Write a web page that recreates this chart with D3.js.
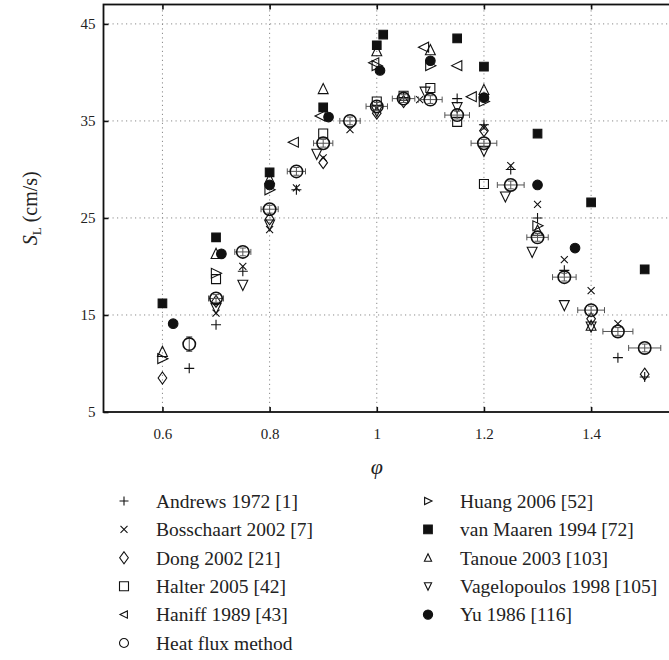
<!DOCTYPE html>
<html>
<head>
<meta charset="utf-8">
<script src="https://cdn.jsdelivr.net/npm/d3@7"></script>
<style>
body { margin: 0; background: #fff; }
</style>
</head>
<body>
<svg id="chart" width="669" height="660"></svg>
<script>
// [phi, S_L] pairs
const andrews = [[0.65, 9.5], [0.7, 14.0], [0.75, 19.5], [0.85, 27.9], [1.0, 36.6], [1.05, 37.4],
    [1.15, 37.3], [1.2, 34.6], [1.25, 30.0], [1.3, 25.0], [1.35, 19.6], [1.45, 10.6], [1.5, 8.6]]
const bosschaart = [[0.7, 15.2], [0.75, 20.0], [0.8, 23.8], [0.85, 28.1], [0.9, 31.2], [0.95, 34.1],
    [1.0, 36.3], [1.08, 37.2], [1.2, 34.3], [1.25, 30.4], [1.3, 26.4], [1.35, 20.7], [1.4, 17.5], [1.45, 14.1]]
const dong = [[0.6, 8.5], [0.7, 16.4], [0.8, 24.9], [0.9, 30.7], [1.0, 35.8], [1.05, 37.0],
    [1.2, 34.0], [1.4, 14.6], [1.5, 8.9]]
const halter = [[0.7, 18.7], [0.9, 33.7], [1.0, 37.0], [1.05, 37.6], [1.1, 38.4], [1.15, 34.9], [1.2, 28.5]]
const haniff = [[0.845, 32.8], [0.895, 35.5], [0.995, 41.0], [1.088, 42.6], [1.15, 40.7], [1.177, 37.5]]
const huang = [[0.6, 10.5], [0.7, 19.3], [0.8, 27.9], [1.0, 40.7], [1.1, 40.7], [1.2, 37.0], [1.3, 24.2]]
const vanMaaren = [[0.6, 16.2], [0.7, 23.0], [0.8, 29.7], [0.9, 36.4], [1.0, 42.8], [1.012, 43.9],
    [1.15, 43.5], [1.2, 40.6], [1.3, 33.7], [1.4, 26.6], [1.5, 19.7]]
const tanoue = [[0.6, 11.2], [0.7, 21.3], [0.8, 29.0], [0.9, 38.3], [1.0, 42.2], [1.1, 42.3],
    [1.2, 38.2], [1.3, 23.7], [1.4, 13.9]]
const vagelopoulos = [[0.7, 15.7], [0.75, 18.1], [0.8, 24.3], [0.888, 31.6], [1.0, 36.0], [1.09, 38.0],
    [1.15, 36.4], [1.2, 31.9], [1.24, 27.2], [1.29, 21.5], [1.35, 16.0], [1.4, 13.8]]
const yu = [[0.62, 14.1], [0.71, 21.3], [0.8, 28.4], [0.91, 35.4], [1.006, 40.2], [1.1, 41.2],
    [1.2, 37.4], [1.3, 28.4], [1.37, 21.9]]

// heat flux method: phi, S_L, phi error, S_L error
const heatFluxPhi = [0.65, 0.7, 0.75, 0.8, 0.85, 0.9, 0.95, 1.0, 1.05, 1.1, 1.15, 1.2, 1.25, 1.3, 1.35, 1.4, 1.45, 1.5]
const heatFluxSL = [12.0, 16.7, 21.5, 25.9, 29.8, 32.7, 35.0, 36.5, 37.3, 37.2, 35.6, 32.7, 28.4, 23.0, 18.9, 15.5, 13.3, 11.6]
const heatFluxPhiErr = [0, 0.014, 0.015, 0.016, 0.017, 0.018, 0.019, 0.02, 0.021, 0.022, 0.023, 0.024, 0.025, 0.02, 0.022, 0.025, 0.028, 0.03]
const heatFluxSLErr = [0.75, 0.4, 0.4, 0.4, 0.4, 0.4, 0.4, 0.4, 0.4, 0.4, 0.4, 0.4, 0.4, 0.4, 0.4, 0.4, 0.4, 0.4]

const xTicks = [0.6, 0.8, 1.0, 1.2, 1.4]
const xTickLabels = ['0.6', '0.8', '1', '1.2', '1.4']
const yTicks = [5, 15, 25, 35, 45]

const leftLegend = ['Andrews 1972 [1]', 'Bosschaart 2002 [7]', 'Dong 2002 [21]', 'Halter 2005 [42]', 'Haniff 1989 [43]', 'Heat flux method']
const rightLegend = ['Huang 2006 [52]', 'van Maaren 1994 [72]', 'Tanoue 2003 [103]', 'Vagelopoulos 1998 [105]', 'Yu 1986 [116]']

const FONT = '"Liberation Serif"'
const svg = d3.select('#chart')
const x = d3.scaleLinear().domain([0.49, 1.62]).range([103.5, 709])
const y = d3.scaleLinear().domain([5, 47]).range([412, 4.5])

// marker shapes, s = half size
const shapes = {
    plus: s => `M${-s},0H${s}M0,${-s}V${s}`,
    cross: s => `M${-s},${-s}L${s},${s}M${-s},${s}L${s},${-s}`,
    diamond: s => `M0,${-s}L${s * 0.72},0L0,${s}L${-s * 0.72},0Z`,
    square: s => `M${-s},${-s}H${s}V${s}H${-s}Z`,
    triLeft: s => `M${-s},0L${s * 0.85},${-s * 0.9}L${s * 0.85},${s * 0.9}Z`,
    triRight: s => `M${s},0L${-s * 0.85},${-s * 0.9}L${-s * 0.85},${s * 0.9}Z`,
    triUp: s => `M0,${-s}L${s * 0.9},${s * 0.85}L${-s * 0.9},${s * 0.85}Z`,
    triDown: s => `M0,${s}L${s * 0.9},${-s * 0.85}L${-s * 0.9},${-s * 0.85}Z`,
    circle: s => `M${s},0A${s},${s} 0 1,1 ${-s},0A${s},${s} 0 1,1 ${s},0Z`
}

const series = [
    { data: andrews, shape: 'plus', size: 5, leg: 4.5, filled: false },
    { data: bosschaart, shape: 'cross', size: 3.5, leg: 3.5, filled: false },
    { data: dong, shape: 'diamond', size: 6, leg: 6, filled: false },
    { data: halter, shape: 'square', size: 4.5, leg: 4.5, filled: false },
    { data: haniff, shape: 'triLeft', size: 5.5, leg: 4, filled: false },
    { data: huang, shape: 'triRight', size: 5.5, leg: 4, filled: false },
    { data: vanMaaren, shape: 'square', size: 4.3, leg: 4.3, filled: true },
    { data: tanoue, shape: 'triUp', size: 5.5, leg: 4, filled: false },
    { data: vagelopoulos, shape: 'triDown', size: 5.5, leg: 4, filled: false },
    { data: yu, shape: 'circle', size: 4.8, leg: 4.6, filled: true }
]

// grid
let grid = svg.append('g').attr('stroke', '#8a8a8a').attr('stroke-width', 1).attr('stroke-dasharray', '1.2,3.3')
grid.selectAll('line.gx').data(xTicks).enter().append('line')
    .attr('x1', d => x(d)).attr('x2', d => x(d))
    .attr('y1', y(5)).attr('y2', y(47))
grid.selectAll('line.gy').data(yTicks.slice(1)).enter().append('line')
    .attr('y1', d => y(d)).attr('y2', d => y(d))
    .attr('x1', x(0.49)).attr('x2', 669)

// axes with inward ticks
let axisStyle = g => {
    g.select('.domain').remove()
    g.selectAll('.tick line').attr('stroke', '#111').attr('stroke-width', 1.6)
    g.selectAll('.tick text').style('font-family', FONT).style('font-size', '15px').attr('fill', '#222')
}
svg.append('g').attr('transform', `translate(0,${y(5)})`)
    .call(d3.axisBottom(x).tickValues(xTicks).tickFormat((d, i) => xTickLabels[i]).tickSizeInner(-5).tickSizeOuter(0).tickPadding(16))
    .call(axisStyle)
svg.append('g').attr('transform', `translate(0,${y(47)})`)
    .call(d3.axisTop(x).tickValues(xTicks).tickFormat('').tickSizeInner(-5).tickSizeOuter(0))
    .call(axisStyle)
svg.append('g').attr('transform', `translate(${x(0.49)},0)`)
    .call(d3.axisLeft(y).tickValues(yTicks).tickSizeInner(-5).tickSizeOuter(0).tickPadding(8))
    .call(axisStyle)

// frame
svg.append('rect')
    .attr('x', x(0.49)).attr('y', y(47))
    .attr('width', x(1.62) - x(0.49)).attr('height', y(5) - y(47))
    .attr('fill', 'none').attr('stroke', '#111').attr('stroke-width', 1.8)

// data markers
series.forEach(s => {
    svg.append('g').selectAll('path').data(s.data).enter().append('path')
        .attr('transform', d => `translate(${x(d[0])},${y(d[1])})`)
        .attr('d', shapes[s.shape](s.size))
        .attr('fill', s.filled ? '#111' : 'none')
        .attr('stroke', '#111')
        .attr('stroke-width', 1.1)
})

// heat flux method with error bars
let hf = svg.append('g').selectAll('g').data(heatFluxPhi).enter().append('g')
hf.append('path')
    .attr('d', (d, i) => {
        let cx = x(d), cy = y(heatFluxSL[i])
        let x0 = x(d - heatFluxPhiErr[i]), x1 = x(d + heatFluxPhiErr[i])
        let y0 = y(heatFluxSL[i] - heatFluxSLErr[i]), y1 = y(heatFluxSL[i] + heatFluxSLErr[i])
        let p = `M${cx},${y0}V${y1}M${cx - 3},${y0}H${cx + 3}M${cx - 3},${y1}H${cx + 3}`
        if (heatFluxPhiErr[i] > 0) p += `M${x0},${cy}H${x1}M${x0},${cy - 3}V${cy + 3}M${x1},${cy - 3}V${cy + 3}`
        return p
    })
    .attr('fill', 'none').attr('stroke', '#555').attr('stroke-width', 1)
hf.append('circle')
    .attr('cx', d => x(d))
    .attr('cy', (d, i) => y(heatFluxSL[i]))
    .attr('r', 6.2)
    .attr('fill', 'none').attr('stroke', '#111').attr('stroke-width', 1.6)

// axis titles
svg.append('text')
    .attr('x', x(1.0)).attr('y', 474)
    .attr('text-anchor', 'middle')
    .style('font-family', FONT).style('font-size', '22px').style('font-style', 'italic')
    .attr('fill', '#222')
    .text('φ')
let yl = svg.append('text')
    .attr('transform', `translate(37,${(y(5) + y(47)) / 2}) rotate(-90)`)
    .attr('text-anchor', 'middle')
    .style('font-family', FONT).style('font-size', '20px')
    .attr('fill', '#222')
yl.append('tspan').style('font-style', 'italic').text('S')
yl.append('tspan').attr('dy', 4).style('font-size', '13px').text('L')
yl.append('tspan').attr('dy', -4).text(' (cm/s)')

// legend
let legendShapes = [series[0], series[1], series[2], series[3], series[4], { shape: 'circle', leg: 4.5, filled: false }]
let rightShapes = series.slice(5)
let rowY = i => 501 + i * 28.4

let lg = svg.append('g').selectAll('g').data(leftLegend).enter().append('g')
    .attr('transform', (d, i) => `translate(0,${rowY(i)})`)
lg.append('path')
    .attr('transform', 'translate(124,0)')
    .attr('d', (d, i) => shapes[legendShapes[i].shape](legendShapes[i].leg))
    .attr('fill', 'none').attr('stroke', '#111').attr('stroke-width', 1.1)
lg.append('text').attr('x', 156).attr('dy', '0.35em')
    .style('font-family', FONT).style('font-size', '19.5px').attr('fill', '#222')
    .text(d => d)

let rg = svg.append('g').selectAll('g').data(rightLegend).enter().append('g')
    .attr('transform', (d, i) => `translate(0,${rowY(i)})`)
rg.append('path')
    .attr('transform', 'translate(428,0)')
    .attr('d', (d, i) => shapes[rightShapes[i].shape](rightShapes[i].leg))
    .attr('fill', (d, i) => rightShapes[i].filled ? '#111' : 'none')
    .attr('stroke', '#111').attr('stroke-width', 1.1)
rg.append('text').attr('x', 460).attr('dy', '0.35em')
    .style('font-family', FONT).style('font-size', '19.5px').attr('fill', '#222')
    .text(d => d)
</script>
</body>
</html>
